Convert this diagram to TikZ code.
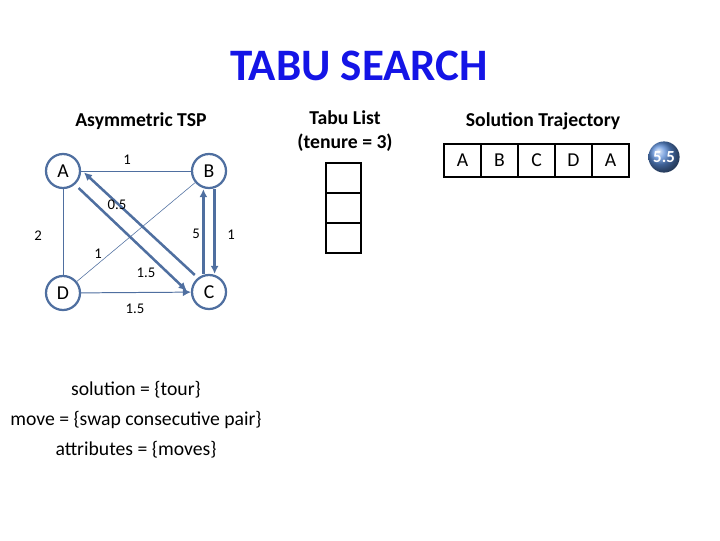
\documentclass[tikz,border=0pt]{standalone}
\usepackage{fontspec}
\setmainfont{Carlito}
\usepackage{tikz}
\usetikzlibrary{arrows.meta}
\usepackage{xcolor}
\definecolor{edgeblue}{RGB}{79,111,160}
\definecolor{titleblue}{RGB}{20,20,230}
\definecolor{ballblue}{RGB}{90,140,215}

\begin{document}
\begin{tikzpicture}
	[x=0.025cm,y=-0.025cm,line width=0.6,
	city/.style = {
		draw=edgeblue, circle, line width=1.6, inner sep=0cm, minimum size=0.85cm,
		font=\fontsize{14}{16}\selectfont
	},
	road/.style = {
		draw=edgeblue, line width=0.7
	},
	trip/.style = {
		draw=edgeblue, line width=1.8, -{Latex[length=2mm,width=2mm]}
	},
	cost/.style = {
		font=\fontsize{10.5}{12}\selectfont
	},
	cell/.style = {
		draw, line width=1, minimum width=0.92cm, minimum height=0.83cm, inner sep=0cm,
		font=\fontsize{14}{16}\selectfont
	},
	tabucell/.style = {
		draw, line width=1, minimum width=0.87cm, minimum height=0.74cm, inner sep=0cm
	},
	head/.style = {
		font=\bfseries\fontsize{14}{17}\selectfont, align=center
	},
	note/.style = {
		font=\fontsize{14}{17}\selectfont
	}]
	
	\useasboundingbox (0,0) rectangle (720,540);
	
	%Draw titles
	\node[text=titleblue,font=\bfseries\fontsize{32}{38}\selectfont] at (359,66) (title) {TABU SEARCH};
	\node[head] at (141,121) (tsp) {Asymmetric TSP};
	\node[head] at (345,131) (tabu) {Tabu List\\(tenure = 3)};
	\node[head] at (543,121) (traj) {Solution Trajectory};
	
	%Draw cities
	\node[city] at (63,171) (A) {A};
	\node[city] at (209,171) (B) {B};
	\node[city] at (209,292) (C) {C};
	\node[city] at (63,293) (D) {D};
	
	%Draw roads
	\draw[road] (A) -- (B);
	\draw[road] (A) -- (D);
	\draw[road,line width=0.4] (D) -- (B);
	\draw[road,-{Latex[length=2mm,width=2mm]}] (D) -- (C);
	\draw[trip] ([xshift=2pt,yshift=-3pt]A.south east) -- ([xshift=-3pt,yshift=1pt]C.west);
	\draw[trip] ([xshift=-1pt,yshift=3pt]C.north west) -- ([xshift=2pt,yshift=-1pt]A.east);
	\draw[trip] ([xshift=-4pt]C.north) -- ([xshift=-4pt]B.south);
	\draw[trip] ([xshift=4pt]B.south) -- ([xshift=4pt]C.north);
	
	%Draw costs
	\node[cost] at (127,160) (cAB) {1};
	\node[cost] at (117,205) (cCA) {0.5};
	\node[cost] at (38,236) (cAD) {2};
	\node[cost] at (196,234) (cCB) {5};
	\node[cost] at (231,235) (cBC) {1};
	\node[cost] at (98,254) (cDB) {1};
	\node[cost] at (146,273) (cAC) {1.5};
	\node[cost] at (135,309) (cDC) {1.5};
	
	%Draw tabu list
	\foreach \i in {0,1,2}
		\node[tabucell] at (343.5,178+30*\i) (t\i) {};
	
	%Draw trajectory
	\foreach \c [count=\i from 0] in {A,B,C,D,A}
		\node[cell] at (462.5+37*\i,160.5) (s\i) {\c};
	\node[circle, inner sep=0cm, minimum size=0.78cm, ball color=ballblue, text=white,
		font=\bfseries\fontsize{12}{14}\selectfont] at (664,157) (len) {5.5};
	
	%Draw notes
	\node[note] at (136,390) (sol) {solution = \{tour\}};
	\node[note] at (136,420) (mv) {move = \{swap consecutive pair\}};
	\node[note] at (136,450) (att) {attributes = \{moves\}};
	
\end{tikzpicture}
\end{document}
